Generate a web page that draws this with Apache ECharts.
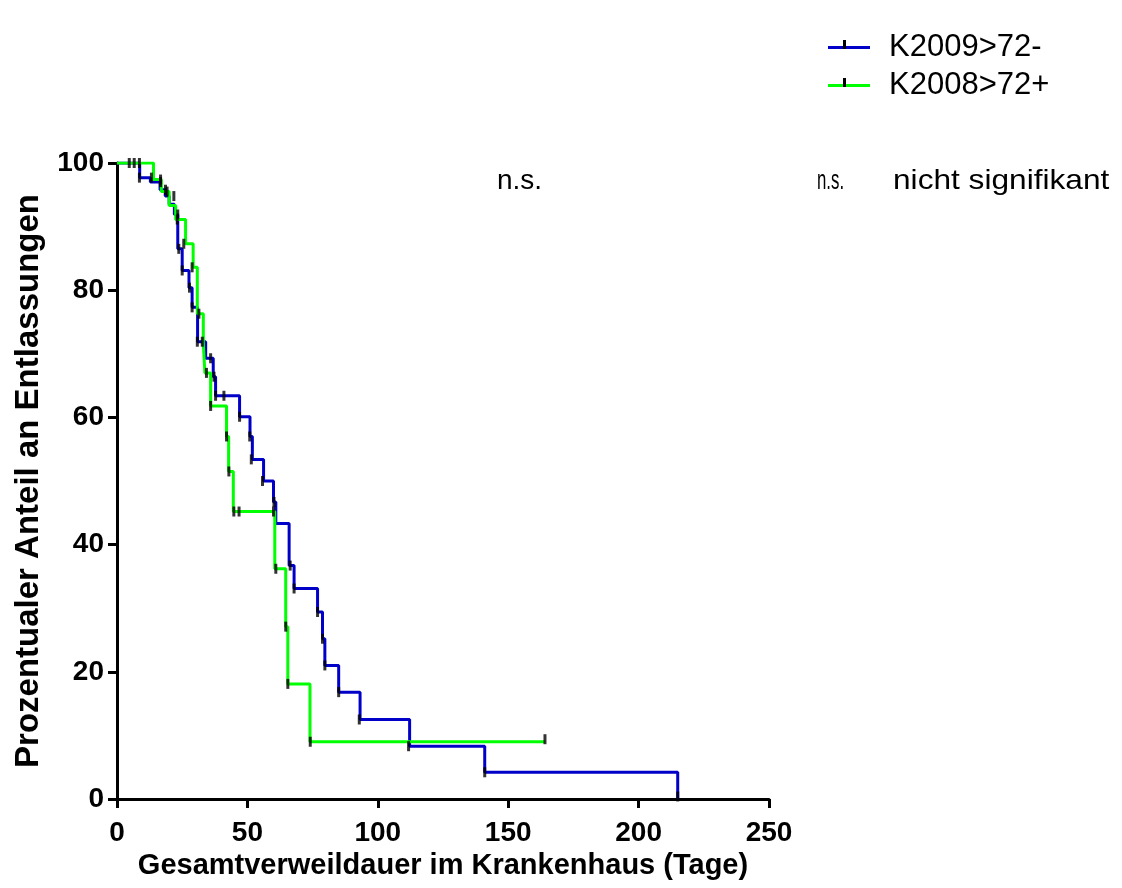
<!DOCTYPE html>
<html>
<head>
<meta charset="utf-8">
<script src="https://cdn.jsdelivr.net/npm/echarts@6/dist/echarts.min.js"></script>
<style>html,body{margin:0;padding:0;background:#fff}#c{width:1122px;height:888px}</style>
</head>
<body>
<div id="c"></div>
<script>
// ---- data ----
const seriesNames = ['K2009>72-', 'K2008>72+'];
const xTicks = [0, 50, 100, 150, 200, 250];
const yTicks = [0, 20, 40, 60, 80, 100];

const blueTimes = [0, 8.7, 12.8, 16.5, 18.5, 20, 22, 23.3, 25, 27.6, 28.8, 30.9, 34, 36.9, 37.8, 47, 51, 51.9, 56.2, 60, 60.9, 66, 67.9, 76.9, 78.8, 79.7, 85, 93.2, 112.2, 141, 215];
const blueSurv  = [100, 97.7, 97.0, 95.8, 94.8, 93.5, 91.9, 86.5, 83.1, 80.4, 77.3, 71.9, 69.3, 66.4, 63.4, 60.1, 57.0, 53.4, 50.0, 46.7, 43.3, 36.7, 33.1, 29.4, 25.2, 21.0, 16.8, 12.5, 8.3, 4.2, 0];

const greenTimes = [0, 14, 17, 20, 22.5, 26.3, 29.2, 30.8, 33.1, 33.7, 35.9, 42, 42.8, 44.6, 60.5, 64.7, 65.5, 74, 164];
const greenSurv  = [100, 97.4, 95.5, 93.3, 91.1, 87.3, 83.6, 76.3, 71.6, 67.0, 61.8, 57.0, 51.5, 45.2, 36.2, 27.1, 18.1, 9.0, 9.0];

const blueCensorT = [4.7, 6.6, 8.6, 8.6, 13.2, 16.7, 18.6, 21.8, 23.3, 23.7, 25, 27.8, 28.8, 30.8, 32.7, 35.9, 37.2, 37.8, 41, 47, 50.9, 51.5, 55.8, 60.2, 66.4, 67.9, 76.9, 78.8, 79.7, 85, 92.9, 111.8, 141, 215];
const blueCensorS = [100, 100, 100, 97.7, 97.7, 97.0, 95.8, 94.8, 91.9, 86.5, 83.1, 80.4, 77.3, 71.9, 71.9, 69.3, 66.4, 63.4, 63.4, 60.1, 57.0, 53.4, 50.0, 46.7, 36.7, 33.1, 29.4, 25.2, 21.0, 16.8, 12.5, 8.3, 4.2, 0.4];

const greenCensorT = [16.7, 19.2, 23.1, 25.6, 28.8, 31.4, 34.3, 35.9, 42, 42.9, 44.8, 46.8, 60, 60.9, 64.7, 65.5, 74.1, 164.1];
const greenCensorS = [97.4, 95.5, 91.1, 87.3, 83.6, 76.3, 67.0, 61.8, 57.0, 51.5, 45.2, 45.2, 45.2, 36.2, 27.1, 18.1, 9.0, 9.4];

const annotations = ['n.s.', 'n.s.', 'nicht signifikant'];

// ---- build ----
const zip = (a, b) => a.map((v, i) => [v, b[i]]);
const FONT = '"Liberation Sans", Arial, sans-serif';
const chart = echarts.init(document.getElementById('c'));

chart.setOption({
  animation: false,
  backgroundColor: '#fff',
  grid: { left: 117, right: 353, top: 163, bottom: 89, containLabel: false },
  legend: {
    data: seriesNames,
    orient: 'vertical',
    left: 823, top: 27,
    itemWidth: 42, itemHeight: 3,
    itemGap: 7,
    icon: 'rect',
    textStyle: { fontFamily: FONT, fontSize: 31, color: '#000', lineHeight: 31, padding: [0, 0, 0, 14] }
  },
  xAxis: {
    type: 'value', min: 0, max: 250, interval: 50,
    name: 'Gesamtverweildauer im Krankenhaus (Tage)',
    nameLocation: 'middle', nameGap: 50,
    nameTextStyle: { fontFamily: FONT, fontSize: 29, fontWeight: 'bold', color: '#000' },
    axisLine: { onZero: false, lineStyle: { color: '#000', width: 3 } },
    axisTick: { length: 9, lineStyle: { color: '#000', width: 3 } },
    axisLabel: { margin: 20, fontFamily: FONT, fontSize: 28, fontWeight: 'bold', color: '#000',
      formatter: v => xTicks.includes(v) ? String(v) : '' },
    splitLine: { show: false }
  },
  yAxis: {
    type: 'value', min: 0, max: 100, interval: 20,
    name: 'Prozentualer Anteil an Entlassungen',
    nameLocation: 'middle', nameGap: 72, nameRotate: 90,
    nameTextStyle: { fontFamily: FONT, fontSize: 33, fontWeight: 'bold', color: '#000' },
    axisLine: { show: true, onZero: false, lineStyle: { color: '#000', width: 3 } },
    axisTick: { show: true, length: 9, lineStyle: { color: '#000', width: 3 } },
    axisLabel: { margin: 13, fontFamily: FONT, fontSize: 28, fontWeight: 'bold', color: '#000',
      formatter: v => yTicks.includes(v) ? String(v) : '' },
    splitLine: { show: false }
  },
  series: [
    { name: seriesNames[0], type: 'line', step: 'end', data: zip(blueTimes, blueSurv),
      showSymbol: false, symbol: 'none', color: '#0000c8', lineStyle: { width: 3, color: '#0000c8' }, z: 3 },
    { name: seriesNames[1], type: 'line', step: 'end', data: zip(greenTimes, greenSurv),
      showSymbol: false, symbol: 'none', color: '#00ff00', lineStyle: { width: 3, color: '#00ff00' }, z: 4 },
    { name: 'censor1', type: 'scatter', data: zip(blueCensorT, blueCensorS), symbol: 'rect',
      symbolSize: [3, 10], itemStyle: { color: '#000' }, z: 5, silent: true },
    { name: 'censor2', type: 'scatter', data: zip(greenCensorT, greenCensorS), symbol: 'rect',
      symbolSize: [3, 10], itemStyle: { color: '#000' }, z: 5, silent: true }
  ],
  graphic: [
    { type: 'rect', shape: { x: 843, y: 40, width: 3, height: 9 }, style: { fill: '#000' }, z: 100 },
    { type: 'rect', shape: { x: 843, y: 78, width: 3, height: 9 }, style: { fill: '#000' }, z: 100 },
    { type: 'text', x: 497, y: 181, style: { text: annotations[0], font: '28px ' + FONT, fill: '#000', textVerticalAlign: 'middle' } },
    { type: 'text', x: 817, y: 181, scaleX: 0.6, style: { text: annotations[1], font: '28px ' + FONT, fill: '#000', textVerticalAlign: 'middle' } },
    { type: 'text', x: 893, y: 181, scaleX: 1.13, style: { text: annotations[2], font: '28px ' + FONT, fill: '#000', textVerticalAlign: 'middle' } }
  ]
});
</script>
</body>
</html>
